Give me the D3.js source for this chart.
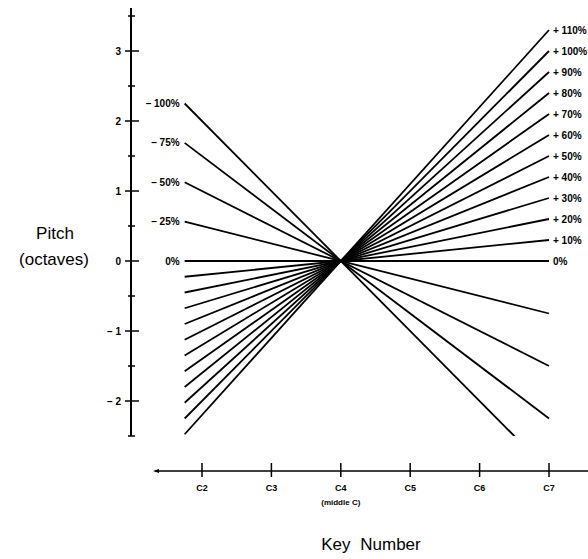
<!DOCTYPE html>
<html>
<head>
<meta charset="utf-8">
<script src="https://cdn.jsdelivr.net/npm/d3@7"></script>
<style>
    body { margin: 0; background: #fff; }
    text { font-family: "Liberation Sans", Arial, sans-serif; fill: #000; }
</style>
</head>
<body>
<svg id="chart"></svg>
<script>
// stretch percentages, one line each
const stretchUp = [10, 20, 30, 40, 50, 60, 70, 80, 90, 100, 110];
const stretchDown = [-25, -50, -75, -100];
const pitchTicks = [-2, -1, 0, 1, 2, 3];
const keyLabels = ["C2", "C3", "C4", "C5", "C6", "C7"];
const keyOffsets = [-2, -1, 0, 1, 2, 3];   // octaves from middle C
const keySpan = [-2.25, 3];
const pitchFloor = -2.5;

class StretchChart {
    constructor(id, width, height) {
        this.width = width;
        this.height = height;
        this.svg = d3.select(id).attr("width", width).attr("height", height);

        this.xScale = d3.scaleLinear().domain([-2, 3]).range([202, 549]);
        this.yScale = d3.scaleLinear().domain([-2, 3]).range([401, 51]);
    }

    drawAxes() {
        const x = this.xScale, y = this.yScale;
        const ax = 131, ay = 471;

        // pitch axis
        this.svg.append("line")
            .attr("x1", ax).attr("x2", ax)
            .attr("y1", 8).attr("y2", y(pitchFloor))
            .attr("stroke", "black").attr("stroke-width", 2);

        const halves = d3.range(-2.5, 3.6, 0.5).filter(v => !pitchTicks.includes(v));
        this.svg.append("g").selectAll("line")
            .data(halves).enter()
            .append("line")
            .attr("x1", ax - 3).attr("x2", ax + 4)
            .attr("y1", d => y(d)).attr("y2", d => y(d))
            .attr("stroke", "black").attr("stroke-width", 1.5);

        this.svg.append("g").selectAll("line")
            .data(pitchTicks).enter()
            .append("line")
            .attr("x1", ax - 6).attr("x2", ax + 8)
            .attr("y1", d => y(d)).attr("y2", d => y(d))
            .attr("stroke", "black").attr("stroke-width", 1.5);

        this.svg.append("g").selectAll("text")
            .data(pitchTicks).enter()
            .append("text")
            .attr("x", ax - 10)
            .attr("y", d => y(d))
            .attr("dy", "0.35em")
            .attr("text-anchor", "end")
            .attr("font-size", 10)
            .attr("font-weight", "bold")
            .text(d => d < 0 ? "\u2013 " + (-d) : d);

        // key axis
        this.svg.append("line")
            .attr("x1", 155).attr("x2", this.width)
            .attr("y1", ay).attr("y2", ay)
            .attr("stroke", "black").attr("stroke-width", 1.5);
        this.svg.append("path")
            .attr("d", `M${153},${ay} l6,-2 l0,4 z`)
            .attr("fill", "black");

        this.svg.append("g").selectAll("line")
            .data(keyOffsets).enter()
            .append("line")
            .attr("x1", d => x(d)).attr("x2", d => x(d))
            .attr("y1", ay - 8).attr("y2", ay + 6)
            .attr("stroke", "black").attr("stroke-width", 1.5);

        this.svg.append("g").selectAll("text")
            .data(keyOffsets).enter()
            .append("text")
            .attr("x", d => x(d))
            .attr("y", 491)
            .attr("text-anchor", "middle")
            .attr("font-size", 9)
            .attr("font-weight", "bold")
            .text((d, i) => keyLabels[i]);

        this.svg.append("text")
            .attr("x", x(0)).attr("y", 505)
            .attr("text-anchor", "middle")
            .attr("font-size", 8)
            .attr("font-weight", "bold")
            .text("(middle C)");

        // titles
        this.svg.append("text")
            .attr("x", 55).attr("y", 239)
            .attr("text-anchor", "middle")
            .attr("font-size", 17)
            .text("Pitch");
        this.svg.append("text")
            .attr("x", 54).attr("y", 265)
            .attr("text-anchor", "middle")
            .attr("font-size", 17)
            .text("(octaves)");
        this.svg.append("text")
            .attr("x", 371).attr("y", 550)
            .attr("text-anchor", "middle")
            .attr("font-size", 17)
            .attr("word-spacing", 5)
            .text("Key Number");
    }

    drawLines() {
        const x = this.xScale, y = this.yScale;
        const all = [0].concat(stretchUp, stretchDown);

        this.svg.append("clipPath").attr("id", "floor")
            .append("rect")
            .attr("x", 0).attr("y", 0)
            .attr("width", this.width).attr("height", y(pitchFloor));

        this.svg.append("g")
            .attr("clip-path", "url(#floor)")
            .selectAll("line")
            .data(all).enter()
            .append("line")
            .attr("x1", x(keySpan[0]))
            .attr("y1", p => y(keySpan[0] * p / 100))
            .attr("x2", x(keySpan[1]))
            .attr("y2", p => y(keySpan[1] * p / 100))
            .attr("stroke", "black")
            .attr("stroke-width", 1.8);

        const fmt = p => p === 0 ? "0%" : (p > 0 ? "+ " + p + "%" : "\u2013 " + (-p) + "%");

        // labels on the rising ends
        this.svg.append("g").selectAll("text")
            .data([0].concat(stretchUp)).enter()
            .append("text")
            .attr("x", x(keySpan[1]) + 4)
            .attr("y", p => y(keySpan[1] * p / 100))
            .attr("dy", "0.35em")
            .attr("font-size", 10)
            .attr("font-weight", "bold")
            .text(fmt);

        this.svg.append("g").selectAll("text")
            .data([0].concat(stretchDown)).enter()
            .append("text")
            .attr("x", x(keySpan[0]) - 5)
            .attr("y", p => y(keySpan[0] * p / 100))
            .attr("dy", "0.35em")
            .attr("text-anchor", "end")
            .attr("font-size", 10)
            .attr("font-weight", "bold")
            .text(fmt);
    }
}

const chart = new StretchChart("#chart", 588, 559);
chart.drawAxes();
chart.drawLines();
</script>
</body>
</html>
